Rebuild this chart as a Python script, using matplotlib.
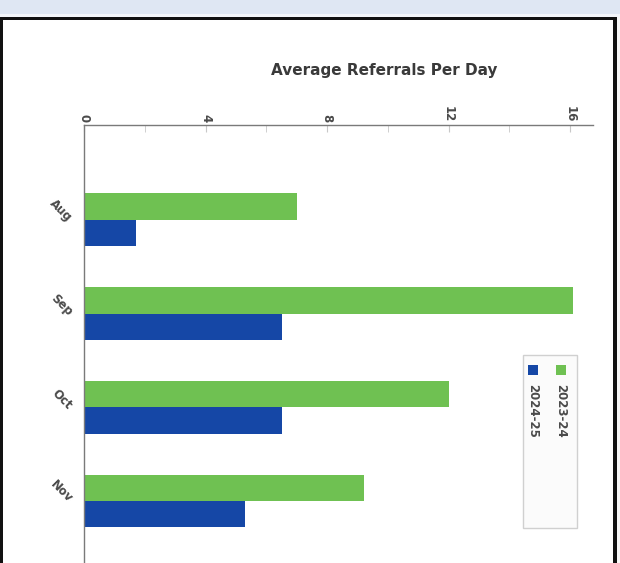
import numpy as np
import matplotlib.pyplot as plt
from matplotlib.patches import Rectangle

# ----------------------------------------------------------
# DATA
# ----------------------------------------------------------

months = ['Aug', 'Sep', 'Oct', 'Nov']
referrals_2324 = [7.0, 16.1, 12.0, 9.2]
referrals_2425 = [1.7, 6.5, 6.5, 5.3]
series_labels = ['2023-24', '2024-25']
x_ticks = [0, 4, 8, 12, 16]

green = '#6fc152'
blue = '#1547a6'
text_grey = '#4a4a4a'

W, H = 620, 563

fig = plt.figure(figsize=(W / 100, H / 100), dpi=100)
fig.patch.set_facecolor('white')

# ----------------------------------------------------------
# BAR CHART
# ----------------------------------------------------------

ax = fig.add_axes([84 / W, 0, (593 - 84) / W, (H - 125) / H])

pos = np.arange(len(months))
bar_h = 0.28
ax.barh(pos - 0.14, referrals_2324, height=bar_h, color=green)
ax.barh(pos + 0.14, referrals_2425, height=bar_h, color=blue)

ax.set_xlim(0, 16.75)
ax.set_ylim(3.66, -1.01)

ax.xaxis.tick_top()
ax.set_xticks(x_ticks)
ax.set_xticks([2, 6, 10, 14], minor=True)
ax.set_xticklabels([str(t) for t in x_ticks], rotation=-90,
                   fontsize=8.5, fontweight='bold', color=text_grey)
ax.tick_params(axis='x', which='both', direction='in', length=5,
               color='#c8c8c8', pad=2)

ax.set_yticks(pos)
ax.set_yticklabels(months, rotation=-45, ha='right', va='center',
                   rotation_mode='anchor', fontsize=8.5, fontweight='bold',
                   color=text_grey)
ax.tick_params(axis='y', length=0, pad=10)

for side in ['right', 'bottom']:
    ax.spines[side].set_visible(False)
for side in ['top', 'left']:
    ax.spines[side].set_color('#7a7a7a')
    ax.spines[side].set_linewidth(1.0)

# ----------------------------------------------------------
# OVERLAY: window frame, title, legend (pixel coordinates)
# ----------------------------------------------------------

ov = fig.add_axes([0, 0, 1, 1], zorder=5)
ov.set_xlim(0, W)
ov.set_ylim(H, 0)
ov.axis('off')
ov.patch.set_alpha(0)

# title bar and black window border
ov.add_patch(Rectangle((0, 0), W, 14, facecolor='#dfe7f3', edgecolor='none'))
ov.add_patch(Rectangle((0, 14), W, 3, facecolor='#f4f6fa', edgecolor='none'))
ov.add_patch(Rectangle((0, 17), 617, 3, facecolor='#111111', edgecolor='none'))
ov.add_patch(Rectangle((0, 17), 3, H, facecolor='#111111', edgecolor='none'))
ov.add_patch(Rectangle((613, 17), 4, H, facecolor='#111111', edgecolor='none'))
ov.add_patch(Rectangle((617, 17), 3, H, facecolor='#f7f7f7', edgecolor='none'))

ov.text(384, 70, 'Average Referrals Per Day', ha='center', va='center',
        fontsize=11, fontweight='bold', color='#3a3a3a')

# legend box
ov.add_patch(Rectangle((523, 355), 54, 173, facecolor='#fbfbfb',
                       edgecolor='#d0d0d0', linewidth=1.0))
for x, c, lab in [(561, green, series_labels[0]),
                  (533, blue, series_labels[1])]:
    ov.add_patch(Rectangle((x - 5, 365), 10, 10, facecolor=c,
                           edgecolor='none'))
    ov.text(x, 384, lab, rotation=-90, ha='center', va='top',
            fontsize=8.5, fontweight='bold', color=text_grey)

plt.savefig('out.png', dpi=100)
